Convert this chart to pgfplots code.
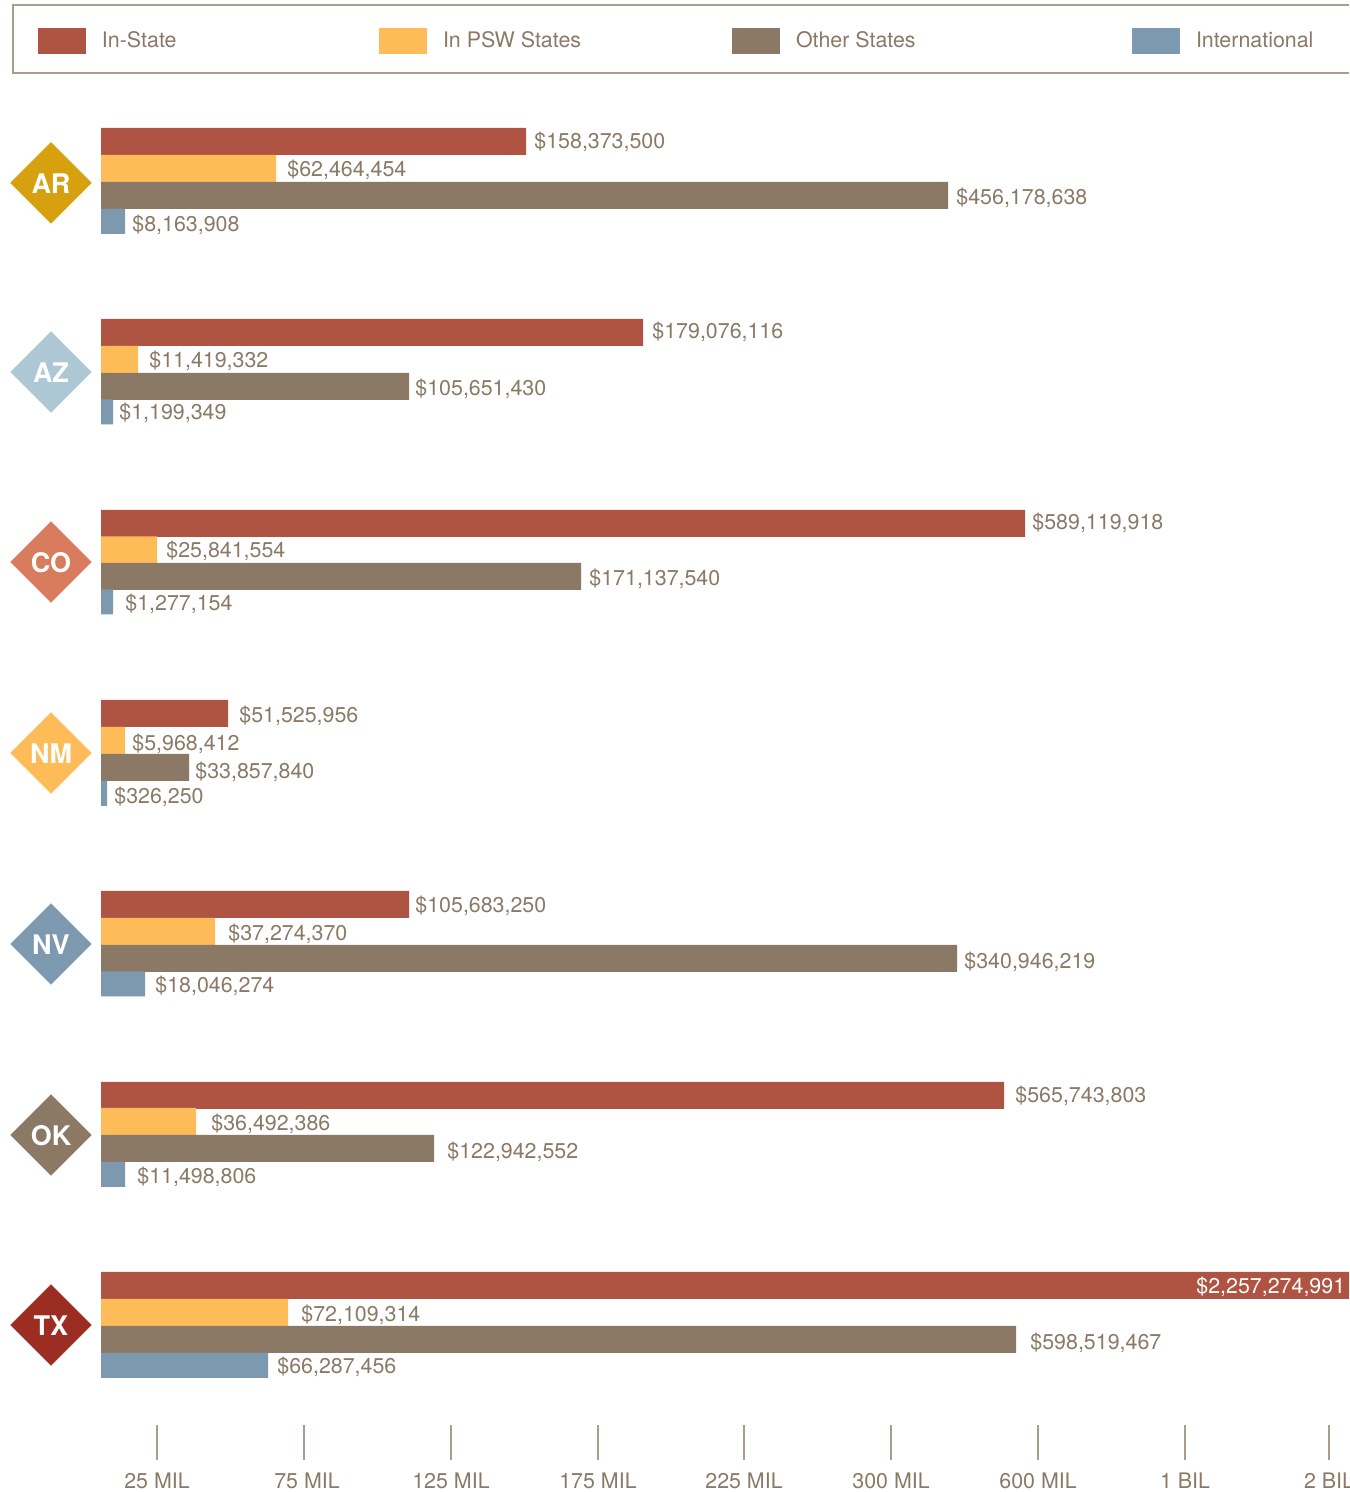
\documentclass[border=0pt]{standalone}
\usepackage{fontspec}
\setmainfont{TeX Gyre Heros}
\usepackage{pgfplots}
\usepackage{pgfplotstable}
\pgfplotsset{compat=1.18}

\definecolor{cIn}{HTML}{AF5342}
\definecolor{cPsw}{HTML}{FDBC57}
\definecolor{cOther}{HTML}{8B7966}
\definecolor{cIntl}{HTML}{7D99AF}
\definecolor{cTick}{HTML}{A99D8D}
\definecolor{dAR}{HTML}{D6A00F}
\definecolor{dAZ}{HTML}{AEC7D5}
\definecolor{dCO}{HTML}{D97C5D}
\definecolor{dNM}{HTML}{FDBC57}
\definecolor{dNV}{HTML}{7D99AF}
\definecolor{dOK}{HTML}{8B7966}
\definecolor{dTX}{HTML}{9C2D22}

% y = bar centre in image pixels, len = drawn bar length (the scale is not linear)
\pgfplotstableread{
state y len
AR 141.5 425
AZ 332.5 542
CO 523.5 924
NM 713.5 127
NV 904.5 308
OK 1095.5 903
TX 1285.5 1248
}\inState
\pgfplotstableread{
state y len
AR 168.5 175
AZ 359.5 37
CO 550 56
NM 740.5 24
NV 931.5 114
OK 1121.5 95
TX 1312.5 187
}\inPsw
\pgfplotstableread{
state y len
AR 195.5 847
AZ 386.5 308
CO 576.5 480
NM 767.5 88
NV 958.5 856
OK 1148.5 333
TX 1339.5 915
}\otherStates
\pgfplotstableread{
state y len
AR 221.5 24
AZ 412 12
CO 602 12
NM 793.5 6
NV 984 44
OK 1174.5 24
TX 1365.5 167
}\international

% label start x and text centre y in image pixels, dollars
\pgfplotstableread{
x y dollars
534 141 158,373,500
287 169 62,464,454
956 197 456,178,638
132 224 8,163,908
652 331 179,076,116
149 360 11,419,332
415 388 105,651,430
119 412 1,199,349
1032 522 589,119,918
166 550 25,841,554
589 578 171,137,540
125 603 1,277,154
239 715 51,525,956
132 743 5,968,412
195 771 33,857,840
114 796 326,250
415 905 105,683,250
228 933 37,274,370
964 961 340,946,219
155 985 18,046,274
1015 1095 565,743,803
211 1123 36,492,386
447 1151 122,942,552
137 1176 11,498,806
301 1314 72,109,314
1030 1342 598,519,467
277 1366 66,287,456
}\valueLabels
\pgfplotstableread{
x y dollars
1196 1286 2,257,274,991
}\whiteLabels

\pgfplotsset{
  swatch/.style={legend image code/.code={
    \fill[##1] (0pt,-6.5pt) rectangle (24pt,6.5pt);
    \path (32pt,0pt);}},
  hbar/.style={xbar, bar shift=0pt, draw=none, fill=#1, swatch},
  vallabel/.style={draw=none, mark=none, forget plot, point meta=explicit symbolic,
    nodes near coords={\$\pgfplotspointmeta},
    nodes near coords style={anchor=base west, inner sep=0pt, font=\fontsize{10.7}{12.8}\selectfont, text=#1}},
  badge/.style={only marks, mark=square*, mark size=14.3pt, forget plot,
    mark options={rotate=45, draw=#1, fill=#1, line width=0.2pt},
    point meta=explicit symbolic, nodes near coords,
    nodes near coords style={anchor=center, yshift=-0.5pt, inner sep=0pt, text=white, font=\fontsize{13.5}{15}\selectfont\bfseries}},
}

\begin{document}
\begin{tikzpicture}
\path[use as bounding box, clip] (0pt,-16pt) rectangle (674.5pt,730pt);
\begin{axis}[
    x=0.5pt, y=0.5pt,
    xmin=-101, xmax=1248,
    ymin=32, ymax=1492,
    axis x line=bottom,
    axis y line=none,
    x axis line style={draw=none, -},
    xtick={56,203,350,497,643,790,937,1084,1228},
    xticklabels={25 MIL,\hspace*{3pt}75 MIL,125 MIL,175 MIL,225 MIL,300 MIL,600 MIL,1 BIL,2 BIL},
    xticklabel style={anchor=base, yshift=-14pt, inner sep=0pt, text=cOther,
      font=\fontsize{10.7}{12.8}\selectfont},
    tick align=inside,
    major tick length=17.5pt,
    tick style={draw=cTick, line width=0.75pt},
    legend columns=4,
    legend style={at={(axis cs:-63,1451)}, anchor=west, draw=none, fill=none,
      inner sep=0pt, outer sep=0pt,
      nodes={inner sep=0pt, text=cOther, font=\fontsize{10.7}{12.8}\selectfont},
      /tikz/every even column/.style={column sep=0pt},
      /tikz/column sep=0pt},
    legend cell align=left,
]

\addplot[hbar=cIn, bar width=13.5pt] table[x=len, y expr=1492-\thisrow{y}] {\inState};
\addlegendentry{\makebox[138.5pt][l]{In-State}}
\addplot[hbar=cPsw, bar width=13.5pt] table[x=len, y expr=1492-\thisrow{y}] {\inPsw};
\addlegendentry{\makebox[144.5pt][l]{\raisebox{-0.5pt}{In PSW States}}}
\addplot[hbar=cOther, bar width=13.5pt] table[x=len, y expr=1492-\thisrow{y}] {\otherStates};
\addlegendentry{\makebox[168pt][l]{\raisebox{-0.5pt}{Other States}}}
\addplot[hbar=cIntl, bar width=12.5pt] table[x=len, y expr=1492-\thisrow{y}] {\international};
\addlegendentry{\makebox[80pt][l]{\raisebox{-0.5pt}{International}}}

\addplot[vallabel=cOther] table[x expr=\thisrow{x}-101, y expr=1484.5-\thisrow{y}, meta=dollars] {\valueLabels};
\addplot[vallabel=white] table[x expr=\thisrow{x}-101, y expr=1484.5-\thisrow{y}, meta=dollars] {\whiteLabels};

\addplot[badge=dAR] coordinates {(-50,1309) [AR]};
\addplot[badge=dAZ] coordinates {(-50,1120) [AZ]};
\addplot[badge=dCO] coordinates {(-50,930) [CO]};
\addplot[badge=dNM] coordinates {(-50,739) [NM]};
\addplot[badge=dNV] coordinates {(-50,548) [NV]};
\addplot[badge=dOK] coordinates {(-50,357) [OK]};
\addplot[badge=dTX] coordinates {(-50,167) [TX]};

\end{axis}
\draw[cTick, line width=0.75pt] (690pt,727.5pt) -- (6.5pt,727.5pt) -- (6.5pt,693.5pt) -- (690pt,693.5pt);
\end{tikzpicture}
\end{document}
